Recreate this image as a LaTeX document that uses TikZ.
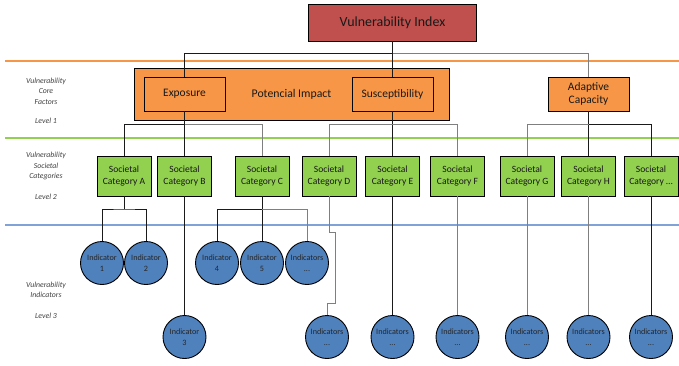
\documentclass[tikz,border=0pt]{standalone}
\usepackage{fontspec}
\setmainfont{Carlito}
\definecolor{cred}{HTML}{C0504D}
\definecolor{corange}{HTML}{F79646}
\definecolor{cgreen}{HTML}{92D050}
\definecolor{cblue}{HTML}{4F81BD}
\definecolor{clblue}{HTML}{7FA3D6}
\definecolor{cline}{HTML}{1A1A1A}
\definecolor{cgline}{HTML}{7F7F7F}
\definecolor{clab}{HTML}{404040}
\begin{document}
\begin{tikzpicture}[x=1bp,y=-1bp,
  box/.style={draw=black,line width=0.9bp,inner sep=1bp,align=center,text=black!90},
  corebox/.style={box,fill=corange,minimum width=81bp,minimum height=34bp,font=\fontsize{11.5}{13}\selectfont},
  catbox/.style={box,fill=cgreen,minimum width=54bp,minimum height=40bp,font=\fontsize{9.6}{11.5}\selectfont},
  indc/.style={draw=black,line width=0.9bp,circle,fill=cblue,minimum size=43bp,inner sep=0pt,align=center,font=\fontsize{8.2}{10.5}\selectfont,text=black!85},
  conn/.style={draw=cline,line width=0.9bp},
  gconn/.style={draw=cgline,line width=0.9bp},
  sepline/.style={line width=1.6bp},
  lab/.style={align=center,font=\fontsize{7.8}{10.5}\selectfont\itshape,text=clab}
]
\useasboundingbox (0,0) rectangle (679,365);
% horizontal rules
\coordinate (r1a) at (5,61); \coordinate (r1b) at (679,61);
\coordinate (r2a) at (5,138); \coordinate (r2b) at (679,138);
\coordinate (r3a) at (5,225); \coordinate (r3b) at (679,225);
\draw[sepline,color=corange] (r1a) -- (r1b);
\draw[sepline,color=cgreen] (r2a) -- (r2b);
\draw[sepline,color=clblue] (r3a) -- (r3b);
% left labels
\node[lab] (l1) at (46,91) {Vulnerability\\Core\\Factors};
\node[lab] (l1b) at (46,121) {Level 1};
\node[lab] (l2) at (46,166) {Vulnerability\\Societal\\Categories};
\node[lab] (l2b) at (46,197) {Level 2};
\node[lab] (l3) at (46,290) {Vulnerability\\Indicators};
\node[lab] (l3b) at (46,316) {Level 3};
% top
\node[box,fill=cred,minimum width=168bp,minimum height=37bp,font=\fontsize{14}{16}\selectfont] (vi) at (392.5,22.5) {Vulnerability Index};
\node[box,fill=corange,minimum width=315bp,minimum height=52bp,font=\fontsize{11.8}{13}\selectfont] (pi) at (291.5,94) {Potencial Impact};
\node[corebox] (expo) at (184.5,94) {Exposure};
\node[corebox] (susc) at (392.5,94) {Susceptibility};
\node[corebox,font=\fontsize{11.5}{13.5}\selectfont] (adapt) at (588.5,94) {Adaptive\\Capacity};
% categories
\node[catbox] (cA) at (124,176) {Societal\\Category A};
\node[catbox] (cB) at (184.5,176) {Societal\\Category B};
\node[catbox] (cC) at (262,176) {Societal\\Category C};
\node[catbox] (cD) at (329,176) {Societal\\Category D};
\node[catbox] (cE) at (392.5,176) {Societal\\Category E};
\node[catbox] (cF) at (457.5,176) {Societal\\Category F};
\node[catbox] (cG) at (527,176) {Societal\\Category G};
\node[catbox] (cH) at (588.5,176) {Societal\\Category H};
\node[catbox] (cI) at (651,176) {Societal\\Category \dots};
% indicators
\node[indc] (i1) at (102,263) {Indicator\\1};
\node[indc] (i2) at (146,263) {Indicator\\2};
\node[indc] (i4) at (217,263) {Indicator\\4};
\node[indc] (i5) at (262,263) {Indicator\\5};
\node[indc] (iC) at (307,263) {Indicators\\...};
\node[indc] (i3) at (184.5,337) {Indicator\\3};
\node[indc] (iD) at (327,337) {Indicators\\...};
\node[indc] (iE) at (392.5,337) {Indicators\\...};
\node[indc] (iF) at (457.5,337) {Indicators\\...};
\node[indc] (iG) at (527,337) {Indicators\\...};
\node[indc] (iH) at (588.5,337) {Indicators\\...};
\node[indc] (iI) at (651,337) {Indicators\\...};
% junctions
\coordinate (j0) at (392.5,53);
\coordinate (j1) at (184.5,124);
\coordinate (j2) at (392.5,124);
\coordinate (j3) at (588.5,124);
\coordinate (jA) at (124,209);
\coordinate (jC) at (262,209);
\coordinate (d1) at (329,232.7);
\coordinate (d2) at (335.7,232.7);
\coordinate (d3) at (335.7,303);
\coordinate (d4) at (327,303);
% connectors
\draw[conn] (vi.south) -- (susc.north);
\draw[conn] (expo.north) |- (j0);
\draw[gconn] (j0) -| (adapt.north);
\draw[conn] (expo.south) -- (cB.north);
\draw[conn] (cA.north) |- (j1);
\draw[gconn] (j1) -| (cC.north);
\draw[conn] (susc.south) -- (cE.north);
\draw[gconn] (cD.north) |- (j2);
\draw[gconn] (j2) -| (cF.north);
\draw[conn] (adapt.south) -- (cH.north);
\draw[gconn] (cG.north) |- (j3);
\draw[conn] (j3) -| (cI.north);
\draw[conn] (cA.south) -- (jA);
\draw[conn] (i1.north) |- (jA) -| (i2.north);
\draw[conn] (cC.south) -- (i5.north);
\draw[conn] (i4.north) |- (jC);
\draw[gconn] (jC) -| (iC.north);
\draw[conn] (cB.south) -- (i3.north);
\draw[gconn] (cD.south) -- (d1) -- (d2) -- (d3) -- (d4) -- (iD.north);
\draw[conn] (cE.south) -- (iE.north);
\draw[gconn] (cF.south) -- (iF.north);
\draw[gconn] (cG.south) -- (iG.north);
\draw[gconn] (cH.south) -- (iH.north);
\draw[conn] (cI.south) -- (iI.north);
\end{tikzpicture}
\end{document}
